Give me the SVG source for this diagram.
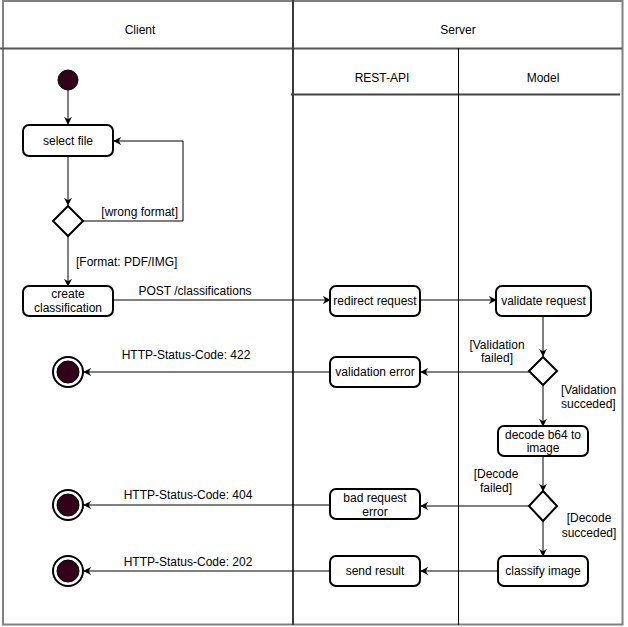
<svg xmlns="http://www.w3.org/2000/svg" width="628" height="627" viewBox="0 0 628 627">
<style>
text{font-family:"Liberation Sans",Arial,sans-serif;font-size:12px;fill:#000}
.c{text-anchor:middle}
.s{text-anchor:start}
.e{text-anchor:end}
.box{fill:#fff;stroke:#000;stroke-width:2}
.dia{fill:#fff;stroke:#000;stroke-width:2}
.ln{fill:none;stroke:#000;stroke-width:1}
.start{fill:#33001a;stroke:#000;stroke-width:1}
</style>
<defs>
<marker id="a" viewBox="0 0 10 10" refX="9" refY="5" markerWidth="8" markerHeight="8" markerUnits="userSpaceOnUse" orient="auto">
<path d="M0,0 L10,5 L0,10 L3,5 Z" fill="#000"/>
</marker>
</defs>
<g id="lanes">
<rect x="3" y="1" width="619.5" height="623.5" fill="#fff" stroke="#808080" stroke-width="2"/>
<line x1="0" y1="48.5" x2="622" y2="48.5" stroke="#555" stroke-width="2"/>
<line x1="293" y1="0" x2="293" y2="625" stroke="#3a3a3a" stroke-width="2"/>
<line x1="291" y1="94.5" x2="620" y2="94.5" stroke="#444" stroke-width="2"/>
<line x1="458.5" y1="48" x2="458.5" y2="625" stroke="#000" stroke-width="1"/>
<text class="c" x="140" y="34">Client</text>
<text class="c" x="458" y="34">Server</text>
<text class="c" x="382" y="82">REST-API</text>
<text class="c" x="543" y="82">Model</text>
</g>
<g id="connectors">
<line class="ln" x1="68" y1="90" x2="68" y2="124" marker-end="url(#a)"/>
<line class="ln" x1="68" y1="156" x2="68" y2="205" marker-end="url(#a)"/>
<polyline class="ln" points="83,221 183,221 183,141 114,141" marker-end="url(#a)"/>
<text class="e" x="178" y="216">[wrong format]</text>
<line class="ln" x1="68" y1="236" x2="68" y2="286" marker-end="url(#a)"/>
<text class="s" x="76" y="266">[Format: PDF/IMG]</text>
<line class="ln" x1="113" y1="300" x2="330" y2="300" marker-end="url(#a)"/>
<text class="c" x="195" y="295">POST /classifications</text>
<line class="ln" x1="420" y1="300" x2="496" y2="300" marker-end="url(#a)"/>
<line class="ln" x1="543" y1="316" x2="543" y2="356" marker-end="url(#a)"/>
<text class="c" x="497" y="349">[Validation</text>
<text class="c" x="497" y="362">failed]</text>
<line class="ln" x1="529" y1="372" x2="421" y2="372" marker-end="url(#a)"/>
<line class="ln" x1="330" y1="372" x2="84" y2="372" marker-end="url(#a)"/>
<text class="c" x="186" y="359">HTTP-Status-Code: 422</text>
<line class="ln" x1="543" y1="386" x2="543" y2="426" marker-end="url(#a)"/>
<text class="s" x="561" y="394">[Validation</text>
<text class="s" x="561" y="408">succeded]</text>
<line class="ln" x1="543" y1="456" x2="543" y2="491" marker-end="url(#a)"/>
<text class="c" x="496" y="478">[Decode</text>
<text class="c" x="496" y="492">failed]</text>
<line class="ln" x1="529" y1="506" x2="421" y2="506" marker-end="url(#a)"/>
<line class="ln" x1="330" y1="505" x2="84" y2="505" marker-end="url(#a)"/>
<text class="c" x="188" y="499">HTTP-Status-Code: 404</text>
<line class="ln" x1="543" y1="521" x2="543" y2="556" marker-end="url(#a)"/>
<text class="c" x="589" y="522">[Decode</text>
<text class="c" x="589" y="537">succeded]</text>
<line class="ln" x1="498" y1="571" x2="421" y2="571" marker-end="url(#a)"/>
<line class="ln" x1="330" y1="571" x2="84" y2="571" marker-end="url(#a)"/>
<text class="c" x="188" y="566">HTTP-Status-Code: 202</text>
</g>
<g id="start"><circle class="start" cx="68" cy="80" r="10"/></g>
<g id="select-file"><rect class="box" x="23" y="125" width="90" height="31" rx="6"/><text class="c" x="68" y="145">select file</text></g>
<g id="format-check"><polygon class="dia" points="68,206 83,221 68,236 53,221"/></g>
<g id="create-classification"><rect class="box" x="23" y="286" width="90" height="30" rx="6"/><text class="c" x="68" y="298">create</text><text class="c" x="68" y="312">classification</text></g>
<g id="redirect-request"><rect class="box" x="330" y="286" width="90" height="30" rx="6"/><text class="c" x="375" y="305">redirect request</text></g>
<g id="validate-request"><rect class="box" x="496" y="286" width="95" height="30" rx="6"/><text class="c" x="543.5" y="305">validate request</text></g>
<g id="validation-check"><polygon class="dia" points="543,357 557,371 543,385 529,371"/></g>
<g id="validation-error"><rect class="box" x="330" y="357" width="90" height="30" rx="6"/><text class="c" x="375" y="376">validation error</text></g>
<g id="end-422"><circle cx="68" cy="372" r="15" fill="#fff" stroke="#000" stroke-width="2"/><circle class="start" cx="68" cy="372" r="11"/></g>
<g id="decode"><rect class="box" x="498" y="426" width="90" height="30" rx="6"/><text class="c" x="543" y="439">decode b64 to</text><text class="c" x="543" y="452">image</text></g>
<g id="decode-check"><polygon class="dia" points="543,491 557,506 543,521 529,506"/></g>
<g id="bad-request"><rect class="box" x="330" y="489" width="90" height="30" rx="6"/><text class="c" x="375" y="502">bad request</text><text class="c" x="375" y="516">error</text></g>
<g id="end-404"><circle cx="68" cy="505" r="15" fill="#fff" stroke="#000" stroke-width="2"/><circle class="start" cx="68" cy="505" r="11"/></g>
<g id="classify-image"><rect class="box" x="498" y="556" width="90" height="30" rx="6"/><text class="c" x="543" y="575">classify image</text></g>
<g id="send-result"><rect class="box" x="330" y="556" width="90" height="30" rx="6"/><text class="c" x="375" y="575">send result</text></g>
<g id="end-202"><circle cx="68" cy="571" r="15" fill="#fff" stroke="#000" stroke-width="2"/><circle class="start" cx="68" cy="571" r="11"/></g>
</svg>
